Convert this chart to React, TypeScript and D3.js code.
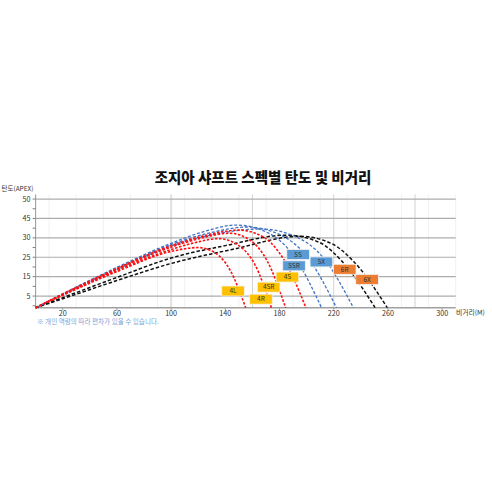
import React from 'react';
import * as d3 from 'd3';

// ---- data ----
const title = '조지아 샤프트 스펙별 탄도 및 비거리';
const yAxisTitle = '탄도(APEX)';
const xAxisTitle = '비거리(M)';
const note = '※ 개인 역량의 따라 편차가 있을 수 있습니다.';

const xTicks = [20, 60, 100, 140, 180, 220, 260, 300];
const xMajorGrid = [100, 160, 220, 280];
const xMinorGrid = [10, 30, 50, 70, 90, 110, 130, 150, 170, 190, 210, 230, 250, 270, 290, 310];
const yTickValues = [3, 8, 13, 18, 23, 28];
const yTickLabels = ['5', '15', '25', '30', '45', '50'];
const yMinorTicks = [0.5, 5.5, 10.5, 15.5, 20.5, 25.5];

// trajectories: [distance, height]
const curve4L: [number, number][] = [[0, 0], [20, 3.2], [60, 9.3], [100, 14.5], [120, 15.5], [133, 14.0], [143.5, 9.7], [155, 0]];
const curve4R: [number, number][] = [[0, 0], [20, 3.3], [60, 9.6], [100, 15.0], [118, 16.8], [135, 17.8], [150, 16.0], [162, 11.0], [174, 0]];
const curve4SR: [number, number][] = [[0, 0], [20, 3.4], [60, 9.9], [100, 15.6], [122, 17.9], [143, 19.2], [159, 17.2], [171, 12.0], [184.5, 0]];
const curve4S: [number, number][] = [[0, 0], [20, 3.5], [60, 10.1], [100, 16.0], [125, 18.6], [150, 20.0], [169, 18.0], [183, 12.5], [199.5, 0]];
const curve5SR: [number, number][] = [[0, 0], [20, 3.6], [60, 10.4], [100, 16.6], [125, 19.7], [148, 21.3], [172, 19.2], [190, 13.6], [211, 0]];
const curve5S: [number, number][] = [[0, 0], [20, 3.5], [60, 10.2], [100, 16.3], [130, 19.4], [156, 20.8], [181, 18.7], [200, 13.3], [222, 0]];
const curve5X: [number, number][] = [[0, 0], [20, 3.4], [60, 9.9], [100, 15.9], [135, 19.1], [166, 20.3], [192, 18.3], [212, 13.0], [234.5, 0]];
const curve6R: [number, number][] = [[0, 0], [20, 2.6], [60, 7.8], [100, 12.8], [140, 16.0], [185, 18.7], [209, 16.9], [226, 12.0], [250.5, 0]];
const curve6X: [number, number][] = [[0, 0], [20, 2.3], [60, 7.0], [100, 11.4], [145, 15.0], [195, 18.4], [218, 16.6], [235, 11.8], [259.5, 0]];

const blackCurves = [curve6R, curve6X];
const blueCurves = [curve5SR, curve5S, curve5X];
const redCurves = [curve4L, curve4R, curve4SR, curve4S];

// annotation boxes: label, anchor distance, anchor height, group
const boxLabels = ['4L', '4R', '4SR', '4S', '5SR', '5S', '5X', '6R', '6X'];
const boxX = [145.7, 166.3, 172.0, 185.8, 190.7, 193.7, 210.9, 228.1, 244.6];
const boxY = [4.3, 2.2, 5.3, 7.9, 10.8, 13.7, 11.8, 9.9, 7.3];
const boxGroup = [4, 4, 4, 4, 5, 5, 5, 6, 6];

const groupFill: Record<number, string> = { 4: '#FFC000', 5: '#5B9BD5', 6: '#ED7D31' };

const FONT = '"Noto Sans CJK KR", "Noto Sans", sans-serif';

export default function App() {
  const x = d3.scaleLinear().domain([0, 310]).range([35.6, 455.7]);
  const y = d3.scaleLinear().domain([0, 29.2]).range([307.7, 194.4]);
  const line = d3
    .line<[number, number]>()
    .x((d) => x(d[0]))
    .y((d) => y(d[1]))
    .curve(d3.curveMonotoneX);

  const [x0, x1] = x.range();
  const [yb, yt] = y.range();

  return (
    <svg
      width={492}
      height={492}
      style={{ position: 'absolute', left: 0, top: 0, background: '#fff' }}
      fontFamily={FONT}
    >
      <rect x={0} y={0} width={492} height={492} fill="#fff" />
      {/* title */}
      <text x={263} y={183} textAnchor="middle" fontSize={14.5} fontWeight={900} fill="#111">
        {title}
      </text>
      {/* minor vertical grid */}
      {xMinorGrid.map((v) => (
        <line key={'mv' + v} x1={x(v)} x2={x(v)} y1={yt} y2={yb} stroke="#f1f1f1" strokeWidth={1} />
      ))}
      {/* major vertical grid */}
      {xMajorGrid.map((v) => (
        <line
          key={'Mv' + v}
          x1={x(v)}
          x2={x(v)}
          y1={yt}
          y2={yb}
          stroke={v === 100 ? '#e3e3e3' : '#d2d2d2'}
          strokeWidth={v === 100 ? 2.2 : 1}
        />
      ))}
      {/* horizontal grid */}
      {yTickValues.map((v) => (
        <line key={'h' + v} x1={x0} x2={x1} y1={y(v)} y2={y(v)} stroke="#adadad" strokeWidth={1.2} />
      ))}
      {/* axes */}
      <line x1={x0} x2={x0} y1={yt} y2={yb} stroke="#a0a0a0" strokeWidth={1.1} />
      <line x1={x0} x2={x1} y1={yb} y2={yb} stroke="#a0a0a0" strokeWidth={1.4} />
      {yTickValues.concat(yMinorTicks).map((v) => (
        <line key={'yt' + v} x1={x0 - 3} x2={x0} y1={y(v)} y2={y(v)} stroke="#808080" strokeWidth={1} />
      ))}
      {xTicks.map((v) => (
        <line key={'xt' + v} x1={x(v)} x2={x(v)} y1={yb} y2={yb + 2.5} stroke="#a0a0a0" strokeWidth={1} />
      ))}
      {yTickLabels.map((lab, i) => (
        <text key={'yl' + lab} x={x0 - 5} y={y(yTickValues[i])} dy="0.35em" textAnchor="end" fontSize={7.2} fill="#333">
          {lab}
        </text>
      ))}
      {xTicks.map((v) => (
        <text key={'xl' + v} x={x(v)} y={313.3} dy="0.35em" textAnchor="middle" fontSize={7.2} fill="#333">
          {v}
        </text>
      ))}
      <text x={1.5} y={188.5} dy="0.35em" fontSize={6.5} fill="#333">
        {yAxisTitle}
      </text>
      <text x={456} y={312.5} dy="0.35em" fontSize={6.8} fill="#333">
        {xAxisTitle}
      </text>
      <text x={37} y={322} dy="0.35em" fontSize={6.6} fill="#7aa3d6">
        {note}
      </text>
      {/* curves */}
      {blackCurves.map((c, i) => (
        <path key={'k' + i} d={line(c) || ''} fill="none" stroke="#111" strokeWidth={1.5} strokeDasharray="3.5,2" />
      ))}
      {blueCurves.map((c, i) => (
        <path key={'b' + i} d={line(c) || ''} fill="none" stroke="#4472C4" strokeWidth={1.3} strokeDasharray="3,1.8" />
      ))}
      {redCurves.map((c, i) => (
        <path key={'r' + i} d={line(c) || ''} fill="none" stroke="#FF1010" strokeWidth={1.6} strokeDasharray="2.5,1.6" />
      ))}
      {/* boxes */}
      {boxLabels.map((lab, i) => {
        const cx = x(boxX[i]);
        const cy = y(boxY[i]);
        return (
          <g key={'box' + lab}>
            <rect x={cx - 11.3} y={cy - 5} width={22.6} height={10} fill={groupFill[boxGroup[i]]} stroke="#f2f2f2" strokeWidth={0.8} />
            <text x={cx} y={cy} dy="0.35em" textAnchor="middle" fontSize={6.5} fill="#333">
              {lab}
            </text>
          </g>
        );
      })}
    </svg>
  );
}
